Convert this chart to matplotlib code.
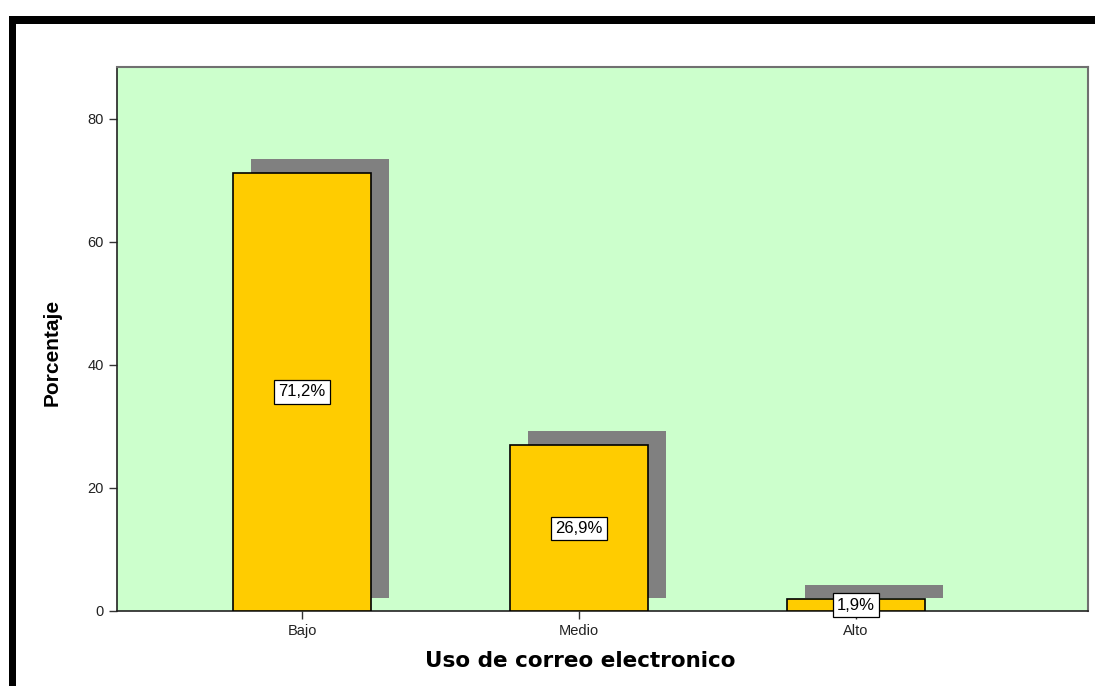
import matplotlib
matplotlib.use("Agg")
import matplotlib.pyplot as plt
from matplotlib.patches import Rectangle

categories = ["Bajo", "Medio", "Alto"]
values = [71.2, 26.9, 1.9]
labels = ["71,2%", "26,9%", "1,9%"]
yticks = [0, 20, 40, 60, 80]

plt.rcParams['font.family'] = ['Liberation Sans', 'DejaVu Sans']

fig = plt.figure(figsize=(10.95, 6.86), dpi=100)
W, H = 1095, 686
ax = fig.add_axes([117 / W, 1 - 611 / H, (1088 - 117) / W, (611 - 67) / H])
ax.set_facecolor('#ccffcc')

x = list(range(len(categories)))
width = 0.5
# shadow first, shifted right and up
for xi, v in zip(x, values):
    ax.add_patch(Rectangle((xi - width / 2 + 0.065, 2.1), width, v + 0.2,
                           facecolor='#808080', edgecolor='none', zorder=2))
ax.bar(x, values, width=width, color='#ffcc00', edgecolor='black', linewidth=1.2, zorder=3)

for xi, v, lab in zip(x, values, labels):
    ax.text(xi, v / 2, lab, ha='center', va='center', fontsize=12, zorder=5,
            bbox=dict(boxstyle='square,pad=0.25', facecolor='white', edgecolor='black', linewidth=0.9))

ax.set_xlim(-0.668, 2.838)
ax.set_ylim(0, 88.4)
ax.set_xticks(x)
ax.set_xticklabels(categories, fontsize=10.5)
ax.set_yticks(yticks)
ax.set_yticklabels([str(t) for t in yticks], fontsize=10.5)
ax.tick_params(axis='both', direction='out', length=6, width=1, colors='#333333', labelcolor='#222222')

for s in ['left', 'bottom']:
    ax.spines[s].set_color('#222222')
    ax.spines[s].set_linewidth(1.2)
for s in ['top', 'right']:
    ax.spines[s].set_color('#707070')
    ax.spines[s].set_linewidth(1.5)

ax.set_ylabel('Porcentaje', fontsize=15, fontweight='bold')
ax.yaxis.set_label_coords(-(117 - 52) / 971, (611 - 352) / 544)
ax.set_xlabel('Uso de correo electronico', fontsize=15.5, fontweight='bold', family='DejaVu Sans')
ax.xaxis.set_label_coords((580 - 117) / 971, -(661 - 611) / 544)
ax.xaxis.label.set_va('center')
ax.yaxis.label.set_va('center')

# thick black frame on top and left
fig.add_artist(Rectangle((9 / W, 1 - 24 / H), 1 - 9 / W, 8 / H, transform=fig.transFigure,
                         facecolor='black', edgecolor='none'))
fig.add_artist(Rectangle((9 / W, 0), 7 / W, 1 - 16 / H, transform=fig.transFigure,
                         facecolor='black', edgecolor='none'))

fig.savefig('out.png', dpi=100)
